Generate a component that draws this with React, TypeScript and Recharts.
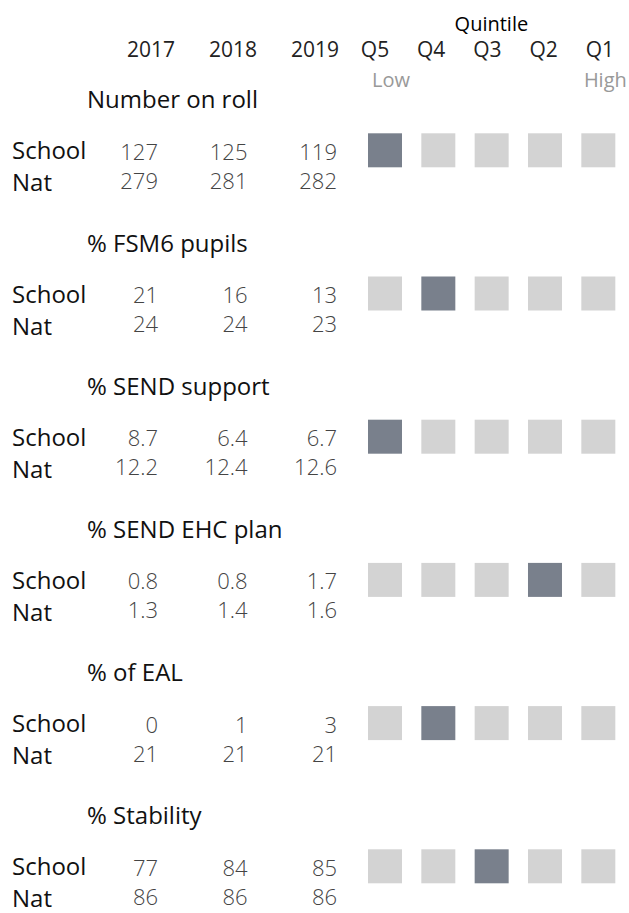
import React from 'react'
import { ScatterChart, Scatter, XAxis, YAxis } from 'recharts'

const sections = ['Number on roll', '% FSM6 pupils', '% SEND support', '% SEND EHC plan', '% of EAL', '% Stability']
const years = ['2017', '2018', '2019']
const quintiles = ['Q5', 'Q4', 'Q3', 'Q2', 'Q1']
const rowLabels = ['School', 'Nat']

const schoolValues = [
    [127, 125, 119],
    [21, 16, 13],
    [8.7, 6.4, 6.7],
    [0.8, 0.8, 1.7],
    [0, 1, 3],
    [77, 84, 85],
]
const natValues = [
    [279, 281, 282],
    [24, 24, 23],
    [12.2, 12.4, 12.6],
    [1.3, 1.4, 1.6],
    [21, 21, 21],
    [86, 86, 86],
]
const decimals = [0, 0, 1, 1, 0, 0]
const schoolQuintile = ['Q5', 'Q4', 'Q5', 'Q2', 'Q4', 'Q3']

const W = 629
const H = 913
const DARK = '#79808c'
const LIGHT = '#d3d3d3'
const FONT = '"Open Sans", "Noto Sans", sans-serif'

// where index 0 lands and the gap between indexes, in px -> axis domain
const span = (first: number, step: number, size: number): [number, number] => [-first / step, (size - first) / step]

const HEAD = -1 // header row sits one section above the first
const valueCells = sections.flatMap((_, s) =>
    years.map((_, i) => ({ yr: i, s, school: schoolValues[s][i], nat: natValues[s][i], dec: decimals[s] }))
)
const quintileCells = sections.flatMap((_, s) =>
    quintiles.map((q, qi) => ({ q: qi, s, on: schoolQuintile[s] === q }))
)
const sectionCells = sections.map((title, s) => ({ yr: 0, s, title }))
const yearHeads = years.map((label, i) => ({ yh: i, s: HEAD, label }))
const quintileHeads = quintiles.map((label, i) => ({ qh: i, s: HEAD, label, i }))

const Square = (props: any) => {
    const { cx, cy, payload } = props
    return <rect x={cx - 17} y={cy - 17} width={34} height={34} fill={payload.on ? DARK : LIGHT} />
}

const Values = (props: any) => {
    const { cx, cy, payload } = props
    const style = { fontFamily: FONT, fontSize: 22, fontWeight: 300, fill: '#444' }
    return (
        <g>
            <text x={cx} y={cy + 9.5} textAnchor='end' {...style}>
                {payload.school.toFixed(payload.dec)}
            </text>
            <text x={cx} y={cy + 38.5} textAnchor='end' {...style}>
                {payload.nat.toFixed(payload.dec)}
            </text>
        </g>
    )
}

// titles and School / Nat labels hang off the first year column
const SectionLabels = (props: any) => {
    const { cx, cy, payload } = props
    const style = { fontFamily: FONT, fontSize: 24, fontWeight: 500, fill: '#111' }
    return (
        <g>
            <text x={cx - 71} y={cy - 42} {...style}>
                {payload.title}
            </text>
            <text x={cx - 146} y={cy + 9} {...style}>
                {rowLabels[0]}
            </text>
            <text x={cx - 146} y={cy + 41} {...style}>
                {rowLabels[1]}
            </text>
        </g>
    )
}

const YearHead = (props: any) => {
    const { cx, cy, payload } = props
    return (
        <text x={cx} y={cy + 50} textAnchor='middle' fontFamily={FONT} fontSize={21} fill='#222'>
            {payload.label}
        </text>
    )
}

const QuintileHead = (props: any) => {
    const { cx, cy, payload } = props
    const i = payload.i
    return (
        <g fontFamily={FONT}>
            <text x={cx} y={cy + 50} textAnchor='middle' fontSize={21} fill='#222'>
                {payload.label}
            </text>
            {i === 2 && (
                <text x={cx + 4} y={cy + 24} textAnchor='middle' fontSize={20} fill='#000'>
                    Quintile
                </text>
            )}
            {i === 0 && (
                <text x={cx - 3} y={cy + 80} fontSize={20} fill='#999'>
                    Low
                </text>
            )}
            {i === quintiles.length - 1 && (
                <text x={cx + 27} y={cy + 80} textAnchor='end' fontSize={20} fill='#999'>
                    High
                </text>
            )}
        </g>
    )
}

export default function App() {
    return (
        <div>
            <style>{'body{margin:0;background:#fff}'}</style>
            <ScatterChart width={W} height={H} margin={{ top: 0, right: 0, bottom: 0, left: 0 }}>
                <XAxis xAxisId='yr' dataKey='yr' type='number' domain={span(158, 89.5, W)} hide />
                <XAxis xAxisId='q' dataKey='q' type='number' domain={span(385, 53.33, W)} hide />
                <XAxis xAxisId='yh' dataKey='yh' type='number' domain={span(151, 82, W)} hide />
                <XAxis xAxisId='qh' dataKey='qh' type='number' domain={span(375, 56.2, W)} hide />
                <YAxis dataKey='s' type='number' reversed domain={span(150.3, 143.2, H)} hide />
                <Scatter data={quintileCells} xAxisId='q' shape={Square} isAnimationActive={false} />
                <Scatter data={valueCells} xAxisId='yr' shape={Values} isAnimationActive={false} />
                <Scatter data={sectionCells} xAxisId='yr' shape={SectionLabels} isAnimationActive={false} />
                <Scatter data={yearHeads} xAxisId='yh' shape={YearHead} isAnimationActive={false} />
                <Scatter data={quintileHeads} xAxisId='qh' shape={QuintileHead} isAnimationActive={false} />
            </ScatterChart>
        </div>
    )
}
